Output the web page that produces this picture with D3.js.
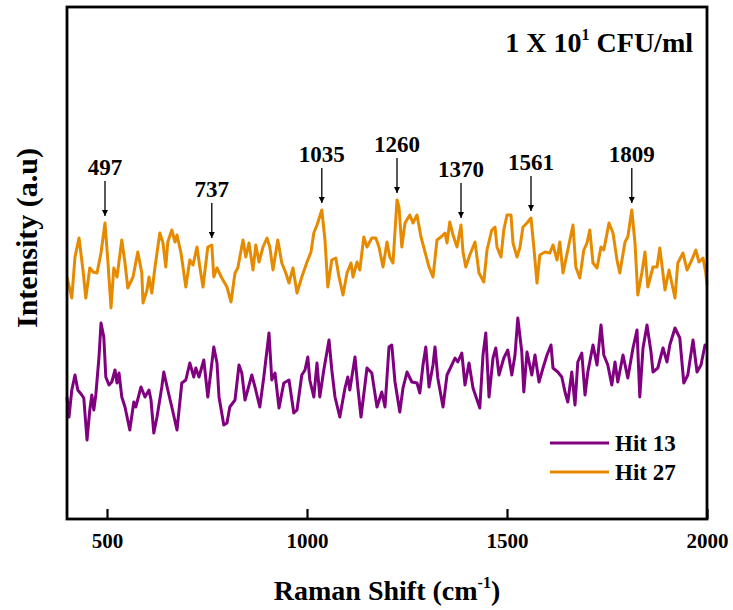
<!DOCTYPE html>
<html>
<head>
<meta charset="utf-8">
<script src="https://cdn.jsdelivr.net/npm/d3@7"></script>
<style>
  body { margin: 0; background: #fff; }
  text { font-family: "Liberation Serif", "Times New Roman", serif; font-weight: bold; }
</style>
</head>
<body>
<svg width="733" height="610"></svg>
<script>
// Raman shift (cm-1) and intensity (a.u.)
var hit13Shift = [400,405,412,420,427,437,442,450,457,462,467,472,480,485,492,497,505,512,520,525,530,537,545,557,567,572,585,595,605,610,617,625,637,642,652,662,675,687,697,707,717,722,730,742,752,767,775,780,792,800,807,820,830,837,845,862,870,882,892,905,912,920,930,942,955,967,975,987,995,1002,1007,1017,1025,1032,1042,1055,1062,1070,1082,1095,1102,1107,1120,1127,1135,1150,1162,1175,1187,1195,1205,1212,1220,1232,1240,1250,1262,1275,1282,1290,1297,1305,1315,1320,1327,1340,1350,1362,1370,1377,1387,1395,1405,1415,1432,1440,1447,1455,1465,1472,1480,1492,1502,1512,1520,1527,1537,1542,1550,1562,1570,1580,1590,1600,1610,1615,1627,1637,1645,1652,1662,1670,1677,1687,1695,1702,1715,1725,1735,1742,1752,1762,1770,1777,1790,1802,1815,1825,1832,1840,1850,1860,1865,1877,1890,1900,1907,1920,1932,1942,1952,1965,1975,1985,1995,2000];
var hit13Int = [122,102,129,144,129,124,121,79,109,124,109,124,162,196,182,142,134,137,149,136,146,122,112,89,117,112,132,122,129,119,86,102,132,147,129,112,89,136,139,156,142,151,142,159,122,172,156,122,94,96,112,119,154,146,119,144,132,112,142,186,139,146,111,136,139,106,109,144,149,162,139,122,156,122,149,179,149,122,102,131,142,129,162,132,102,151,146,112,127,112,172,174,137,107,131,147,137,136,126,154,172,132,154,172,141,112,144,154,161,157,166,134,156,131,111,164,186,122,161,171,144,161,169,144,164,201,167,127,167,144,164,137,151,164,174,151,147,142,127,117,147,114,157,166,124,147,174,154,194,164,154,134,157,137,164,141,171,189,122,171,194,167,147,151,171,157,174,191,181,136,144,179,147,154,174,174];

var hit27Shift = [400,412,420,430,440,447,457,465,475,485,495,502,510,517,525,537,545,552,565,577,587,590,600,605,612,620,632,640,647,652,662,670,675,685,697,707,715,725,732,740,752,762,767,775,787,800,810,820,827,840,847,855,865,872,880,890,900,907,915,927,937,947,955,965,975,987,1000,1010,1017,1025,1037,1045,1052,1062,1072,1080,1090,1100,1110,1115,1125,1132,1142,1150,1162,1172,1180,1190,1200,1207,1215,1225,1230,1237,1245,1257,1265,1275,1285,1295,1305,1315,1325,1335,1345,1350,1357,1365,1375,1385,1390,1397,1407,1420,1430,1442,1450,1462,1470,1475,1485,1492,1500,1510,1515,1525,1532,1540,1550,1560,1567,1575,1582,1595,1607,1615,1625,1632,1640,1652,1665,1672,1682,1692,1700,1707,1715,1725,1735,1742,1755,1765,1775,1782,1795,1802,1812,1820,1827,1837,1845,1852,1865,1875,1882,1895,1905,1920,1927,1940,1950,1962,1972,1980,1990,1997,2000];
var hit27Int = [242,221,262,281,249,221,251,247,246,266,296,259,211,251,242,279,256,231,242,267,246,216,229,242,226,252,286,276,252,277,289,277,284,266,232,259,254,272,252,232,272,274,242,251,241,232,217,246,251,279,262,276,249,274,257,272,281,272,249,279,256,246,236,251,226,242,257,267,286,294,309,279,232,259,261,242,224,246,256,242,257,249,282,272,281,281,272,252,277,262,256,319,312,272,296,304,296,304,282,267,252,242,279,282,286,276,297,284,272,294,267,252,264,277,246,237,269,289,292,272,262,289,304,304,276,262,271,292,296,301,272,236,264,267,266,274,259,277,246,269,294,252,241,269,276,289,256,251,272,269,296,286,259,246,277,282,309,276,224,246,267,232,252,252,271,229,249,221,256,266,249,259,269,257,261,246,234];

var xTicks = [500, 1000, 1500, 2000];
var peakLabels = ["497", "737", "1035", "1260", "1370", "1561", "1809"];
var peakShift = [495, 762, 1037, 1225, 1385, 1560, 1812];
var seriesNames = ["Hit 13", "Hit 27"];
var seriesColors = ["#800080", "#e68a00"];

var svg = d3.select("svg");
var plotL = 67, plotR = 707, plotT = 7, plotB = 519;

var x = d3.scaleLinear().domain([400, 2000]).range([plotL, plotR]);
var y = d3.scaleLinear().domain([0, 512]).range([plotB, plotT]);

var line = d3.line()
    .x(d => x(d[0]))
    .y(d => y(d[1]));

var hit13 = hit13Shift.map((s, i) => [s, hit13Int[i]]);
var hit27 = hit27Shift.map((s, i) => [s, hit27Int[i]]);

[hit13, hit27].forEach(function (data, i) {
    svg.append("path")
        .datum(data)
        .attr("fill", "none")
        .attr("stroke", seriesColors[i])
        .attr("stroke-width", 3)
        .attr("stroke-linejoin", "round")
        .attr("d", line);
});

// bottom axis, ticks pointing inward
var xAxis = svg.append("g")
    .attr("transform", "translate(0," + plotB + ")")
    .call(d3.axisBottom(x).tickValues(xTicks).tickFormat(d3.format("d"))
        .tickSizeInner(-10).tickSizeOuter(0).tickPadding(14));
xAxis.select(".domain").remove();
xAxis.selectAll(".tick line").attr("stroke", "#000").attr("stroke-width", 2.2);
xAxis.selectAll(".tick text")
    .attr("fill", "#000")
    .style("font-size", "21px")
    .style("font-family", "'Liberation Serif', serif")
    .style("font-weight", "bold");

// frame
svg.append("rect")
    .attr("x", plotL).attr("y", plotT)
    .attr("width", plotR - plotL).attr("height", plotB - plotT)
    .attr("fill", "none")
    .attr("stroke", "#000")
    .attr("stroke-width", 2.8);

// peak arrows
svg.append("defs").append("marker")
    .attr("id", "arrow")
    .attr("viewBox", "0 0 10 10")
    .attr("refX", 10).attr("refY", 5)
    .attr("markerWidth", 6).attr("markerHeight", 6)
    .attr("markerUnits", "userSpaceOnUse")
    .attr("orient", "auto")
    .append("path")
    .attr("d", "M0,0 L10,5 L0,10 z")
    .attr("fill", "#000");

peakLabels.forEach(function (lab, i) {
    var j = d3.minIndex(hit27Shift, s => Math.abs(s - peakShift[i]));
    var tip = y(hit27Int[j]) - 7;
    var arrowTop = tip - 35;
    svg.append("line")
        .attr("x1", x(peakShift[i])).attr("x2", x(peakShift[i]))
        .attr("y1", arrowTop).attr("y2", tip)
        .attr("stroke", "#000")
        .attr("stroke-width", 1.3)
        .attr("marker-end", "url(#arrow)");
    svg.append("text")
        .attr("x", x(peakShift[i]))
        .attr("y", arrowTop - 6)
        .attr("text-anchor", "middle")
        .style("font-size", "23px")
        .text(lab);
});

// concentration label
var conc = svg.append("text")
    .attr("x", 693).attr("y", 52)
    .attr("text-anchor", "end")
    .style("font-size", "28px");
conc.append("tspan").text("1 X 10");
conc.append("tspan").attr("dy", -12).style("font-size", "16px").text("1");
conc.append("tspan").attr("dy", 12).text(" CFU/ml");

// legend
seriesNames.forEach(function (name, i) {
    var ly = 443 + i * 29;
    svg.append("line")
        .attr("x1", 550).attr("x2", 609)
        .attr("y1", ly).attr("y2", ly)
        .attr("stroke", seriesColors[i])
        .attr("stroke-width", 3);
    svg.append("text")
        .attr("x", 615).attr("y", ly + 8)
        .style("font-size", "23px")
        .text(name);
});

// axis titles
var xt = svg.append("text")
    .attr("x", 387).attr("y", 600)
    .attr("text-anchor", "middle")
    .style("font-size", "28px");
xt.append("tspan").text("Raman Shift (cm");
xt.append("tspan").attr("dy", -12).style("font-size", "16px").text("-1");
xt.append("tspan").attr("dy", 12).text(")");

svg.append("text")
    .attr("transform", "translate(37,238) rotate(-90)")
    .attr("text-anchor", "middle")
    .style("font-size", "30px")
    .text("Intensity (a.u)");
</script>
</body>
</html>
